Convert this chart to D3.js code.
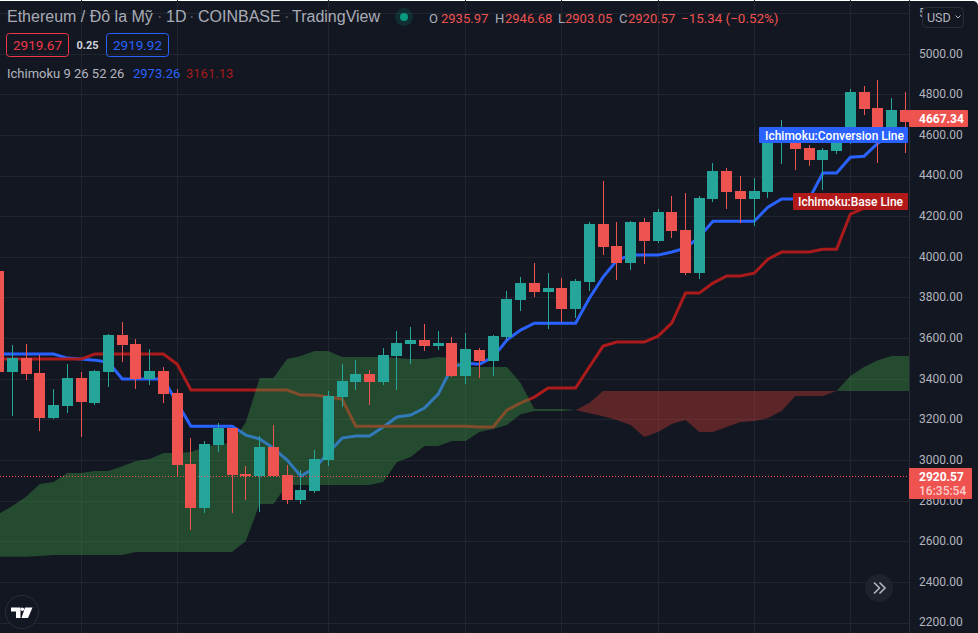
<!DOCTYPE html>
<html>
<head>
<meta charset="utf-8">
<script src="https://cdn.jsdelivr.net/npm/d3@7"></script>
<style>
    html, body { margin: 0; padding: 0; background: #fff; overflow: hidden; }
    svg { display: block; }
    text { font-family: Roboto, sans-serif; }
</style>
</head>
<body>
<script>
// candles, one entry per day
const candleOpen = [3932, 3435, 3504, 3430, 3209, 3268, 3406, 3283, 3435, 3617,
    3573, 3401, 3440, 3332, 2982, 2766, 3076, 3160, 2933, 2923,
    3066, 2928, 2806, 2850, 3002, 3312, 3386, 3425, 3386, 3514,
    3573, 3593, 3563, 3578, 3416, 3544, 3489, 3608, 3790, 3873,
    3829, 3849, 3745, 3878, 4163, 4056, 3972, 4173, 4080, 4222,
    4134, 3922, 4287, 4424, 4326, 4287, 4321, 4572, 4562, 4538,
    4478, 4523, 4567, 4813, 4734, 4602, 4724];
const candleHigh = [3932, 3568, 3573, 3519, 3352, 3474, 3435, 3445, 3622, 3681,
    3598, 3549, 3460, 3352, 3110, 3096, 3184, 3160, 2972, 3120,
    3175, 2977, 2953, 3052, 3342, 3474, 3494, 3445, 3554, 3637,
    3657, 3671, 3637, 3608, 3627, 3554, 3617, 3834, 3903, 3972,
    3922, 3898, 3893, 4173, 4375, 4173, 4178, 4193, 4237, 4301,
    4316, 4301, 4463, 4439, 4400, 4390, 4611, 4675, 4602, 4552,
    4538, 4577, 4828, 4842, 4872, 4783, 4813];
const candleLow = [3435, 3218, 3396, 3145, 3204, 3233, 3115, 3273, 3361, 3484,
    3352, 3371, 3283, 2919, 2658, 2741, 3042, 2741, 2806, 2746,
    2923, 2786, 2786, 2840, 2972, 3263, 3347, 3273, 3371, 3347,
    3474, 3539, 3544, 3411, 3376, 3406, 3416, 3593, 3735, 3804,
    3647, 3681, 3701, 3834, 4011, 3888, 3937, 3967, 4070, 4095,
    3912, 3893, 4272, 4237, 4168, 4153, 4292, 4459, 4429, 4449,
    4331, 4508, 4557, 4700, 4463, 4587, 4513];
const candleClose = [3435, 3504, 3425, 3209, 3273, 3406, 3288, 3440, 3617, 3568,
    3401, 3440, 3327, 2977, 2766, 3081, 3160, 2928, 2923, 3066,
    2923, 2806, 2855, 3007, 3317, 3391, 3425, 3386, 3519, 3578,
    3593, 3563, 3578, 3416, 3549, 3489, 3612, 3794, 3873, 3829,
    3849, 3745, 3883, 4163, 4051, 3972, 4173, 4080, 4222, 4129,
    3922, 4292, 4424, 4321, 4287, 4326, 4602, 4631, 4533, 4478,
    4528, 4562, 4813, 4729, 4602, 4724, 4667.34];

// ichimoku lines
const conversionLine = [3524, 3524, 3524, 3524, 3524, 3504, 3499, 3494, 3484, 3401,
    3401, 3401, 3401, 3283, 3169, 3169, 3169, 3169, 3125, 3106,
    3061, 3002, 2923, 2963, 3037, 3110, 3120, 3120, 3165, 3214,
    3224, 3258, 3327, 3460, 3479, 3474, 3509, 3593, 3642, 3676,
    3676, 3676, 3676, 3799, 3903, 3986, 4011, 4011, 4011, 4026,
    4045, 4100, 4178, 4178, 4178, 4178, 4247, 4287, 4287, 4287,
    4415, 4415, 4493, 4498, 4562, 4602, 4602];
const baseLine = [3499, 3499, 3499, 3499, 3499, 3499, 3499, 3524, 3524, 3524,
    3524, 3524, 3524, 3474, 3347, 3347, 3347, 3347, 3347, 3347,
    3347, 3347, 3322, 3322, 3312, 3302, 3169, 3169, 3169, 3169,
    3169, 3169, 3169, 3169, 3169, 3165, 3165, 3248, 3283, 3312,
    3357, 3357, 3357, 3460, 3563, 3583, 3583, 3583, 3612, 3676,
    3824, 3824, 3873, 3908, 3908, 3922, 3991, 4026, 4026, 4026,
    4040, 4040, 4213, 4242, 4257, 4282, 4282];

// the cloud runs one bar past the last candle
const spanA = [2736, 2776, 2821, 2884, 2894, 2938, 2938, 2948, 2948, 2972,
    2997, 3007, 3037, 3037, 3042, 3066, 3081, 3086, 3189, 3406,
    3406, 3499, 3514, 3539, 3539, 3509, 3509, 3509, 3509, 3504,
    3499, 3499, 3509, 3504, 3460, 3460, 3460, 3460, 3381, 3253,
    3253, 3253, 3248, 3233, 3218, 3199, 3175, 3115, 3140, 3179,
    3199, 3140, 3140, 3165, 3189, 3194, 3209, 3243, 3317, 3317,
    3317, 3342, 3416, 3460, 3494, 3514, 3514, 3514];
const spanB = [2526, 2526, 2526, 2530, 2535, 2535, 2535, 2535, 2535, 2535,
    2550, 2550, 2550, 2550, 2550, 2550, 2550, 2550, 2604, 2786,
    2786, 2879, 2879, 2879, 2879, 2879, 2879, 2879, 2894, 2992,
    3017, 3071, 3071, 3096, 3096, 3140, 3155, 3175, 3228, 3243,
    3243, 3243, 3248, 3283, 3342, 3342, 3342, 3342, 3342, 3342,
    3342, 3342, 3342, 3342, 3342, 3342, 3342, 3342, 3342, 3342,
    3342, 3342, 3342, 3342, 3342, 3342, 3342, 3342];

const priceTicks = [2200, 2400, 2600, 2800, 3000, 3200, 3400, 3600, 3800, 4000, 4200, 4400, 4600, 4800, 5000, 5200];
const timeGridBars = [6, 13, 24, 34, 41, 48, 55, 62];
const lastPrice = 2920.57;
const highlightPrice = 4667.34;

const ohlcLabels = ["O", "H", "L", "C"];
const ohlcValues = ["2935.97", "2946.68", "2903.05", "2920.57"];

const width = 978, height = 633;
const plotWidth = 909;

const bg = "#131722", gridColor = "#212530", axisColor = "#2a2e39", textColor = "#b2b5be";
const up = "#26a69a", down = "#ef5350", blue = "#2962ff", darkRed = "#ab1b1b";

const xScale = d3.scaleLinear().domain([0, 66]).range([-1.4, 905.3]);
const yScale = d3.scaleLinear().domain([5000, 2200]).range([54.2, 623]);

// pixel snap helpers
const snap = v => Math.round(v - 0.5) + 0.5;

const svg = d3.select("body").append("svg")
    .attr("width", width)
    .attr("height", height);

svg.append("rect")
    .attr("x", -10).attr("y", 1)
    .attr("width", width + 10).attr("height", height + 10)
    .attr("rx", 5)
    .attr("fill", bg);

svg.append("clipPath").attr("id", "plot-clip")
    .append("rect").attr("width", plotWidth).attr("height", height);

// grid
const grid = svg.append("g").attr("stroke", gridColor).attr("stroke-width", 1);
grid.selectAll("line.h").data(priceTicks).join("line")
    .attr("class", "h")
    .attr("x1", 0).attr("x2", plotWidth)
    .attr("y1", d => snap(yScale(d))).attr("y2", d => snap(yScale(d)));
grid.selectAll("line.v").data(timeGridBars).join("line")
    .attr("class", "v")
    .attr("x1", d => snap(xScale(d))).attr("x2", d => snap(xScale(d)))
    .attr("y1", 0).attr("y2", height);

const plot = svg.append("g").attr("clip-path", "url(#plot-clip)");

// lines sit under the cloud, that's why they look dull inside it
const line = d3.line().x((d, i) => xScale(i)).y(d => yScale(d));
plot.append("path").datum(conversionLine)
    .attr("d", line).attr("fill", "none").attr("stroke", blue).attr("stroke-width", 3);
plot.append("path").datum(baseLine)
    .attr("d", line).attr("fill", "none").attr("stroke", darkRed).attr("stroke-width", 3);

// cloud, split where the two spans touch
const cloudArea = test => d3.area()
    .defined(i => test(spanA[i], spanB[i]))
    .x(i => xScale(i))
    .y0(i => yScale(spanA[i]))
    .y1(i => yScale(spanB[i]));
const cloudBars = d3.range(spanA.length);
plot.append("path").datum(cloudBars)
    .attr("d", cloudArea((a, b) => a >= b))
    .attr("fill", "rgba(67,160,71,0.38)");
plot.append("path").datum(cloudBars)
    .attr("d", cloudArea((a, b) => a <= b))
    .attr("fill", "rgba(244,67,54,0.33)");

// candles
const candles = plot.append("g").attr("shape-rendering", "crispEdges")
    .selectAll("g").data(candleOpen).join("g")
    .attr("fill", (d, i) => candleClose[i] >= d ? up : down)
    .attr("stroke", "none");
candles.append("rect")
    .attr("x", (d, i) => Math.round(xScale(i) - 0.5))
    .attr("width", 1)
    .attr("y", (d, i) => yScale(candleHigh[i]))
    .attr("height", (d, i) => yScale(candleLow[i]) - yScale(candleHigh[i]));
candles.append("rect")
    .attr("x", (d, i) => Math.round(xScale(i) - 0.5) - 5)
    .attr("width", 11)
    .attr("y", (d, i) => yScale(Math.max(d, candleClose[i])))
    .attr("height", (d, i) => Math.max(1, Math.abs(yScale(d) - yScale(candleClose[i]))));

// last price line
svg.append("line")
    .attr("x1", 0).attr("x2", plotWidth)
    .attr("y1", snap(yScale(lastPrice))).attr("y2", snap(yScale(lastPrice)))
    .attr("stroke", down).attr("stroke-dasharray", "1,2");

// price axis
svg.append("line")
    .attr("x1", plotWidth + 0.5).attr("x2", plotWidth + 0.5)
    .attr("y1", 0).attr("y2", height)
    .attr("stroke", axisColor);
const axis = svg.append("g")
    .attr("transform", `translate(${plotWidth},0)`)
    .call(d3.axisRight(yScale).tickValues(priceTicks).tickFormat(d3.format(".2f")).tickSize(0).tickPadding(10));
axis.select(".domain").remove();
axis.selectAll("text")
    .attr("fill", textColor)
    .attr("dy", "0.24em")
    .style("font-family", "Roboto, sans-serif")
    .style("font-size", "12px");

// boxes tied to the series
function tag(x, y, w, h, fill) {
    svg.append("rect").attr("x", x).attr("y", y).attr("width", w).attr("height", h).attr("rx", 1).attr("fill", fill);
}
function label(str, x, y, size, color, weight, anchor, family) {
    return svg.append("text")
        .attr("x", x).attr("y", y)
        .attr("font-size", size)
        .attr("font-weight", weight || 400)
        .attr("text-anchor", anchor || "start")
        .attr("fill", color)
        .style("font-family", family || "Roboto, sans-serif")
        .text(str);
}

tag(759, 127, 149, 16, blue);
label("Ichimoku:Conversion Line", 765, 139.5, 12, "#fff", 500);
tag(793, 193, 115, 17, "#b21a1a");
label("Ichimoku:Base Line", 798, 206, 12, "#fff", 500);

tag(909, 110, 59, 17, down);
label(d3.format(".2f")(highlightPrice), 919, 122.5, 12, "#fff", 700);

tag(909, 468, 63, 31, down);
label(d3.format(".2f")(lastPrice), 919, 480.5, 12, "#fff", 700);
label("16:35:54", 919, 495, 12, "rgba(255,255,255,0.72)", 500);

// currency button
svg.append("rect")
    .attr("x", 922.5).attr("y", 7.5).attr("width", 41).attr("height", 20).attr("rx", 4)
    .attr("fill", bg).attr("stroke", "#2a2e39");
label("USD", 927, 22, 12.5, textColor);
svg.append("path")
    .attr("d", "M955.5 15.5l2.5 2.5l2.5-2.5")
    .attr("fill", "none").attr("stroke", textColor);

// header
const titleColor = "#a9acb6", titleFont = "'Liberation Sans', Arial, sans-serif";
label("Ethereum / Đô la Mỹ", 7, 22, 16, titleColor, 400, "start", titleFont);
label("·", 157, 22, 16, "#5d606b", 400, "start", titleFont);
label("1D", 166, 22, 16, titleColor, 400, "start", titleFont);
label("·", 189, 22, 16, "#5d606b", 400, "start", titleFont);
label("COINBASE", 198, 22, 16, titleColor, 400, "start", titleFont);
label("·", 284, 22, 16, "#5d606b", 400, "start", titleFont);
label("TradingView", 292, 22, 16, titleColor, 400, "start", titleFont);

svg.append("circle").attr("cx", 404).attr("cy", 17).attr("r", 9).attr("fill", "rgba(8,153,129,0.18)");
svg.append("circle").attr("cx", 404).attr("cy", 17).attr("r", 4).attr("fill", "#089981");

const ohlcX = [429, 495, 558, 619];
const ohlcGap = [12, 10, 7, 9];
ohlcLabels.forEach((d, i) => {
    label(d, ohlcX[i], 23, 13, titleColor);
    label(ohlcValues[i], ohlcX[i] + ohlcGap[i], 23, 13, down);
});
label("−15.34 (−0.52%)", 681, 23, 13.4, down);

// bid / ask boxes
svg.append("rect").attr("x", 6.5).attr("y", 33.5).attr("width", 62).attr("height", 23).attr("rx", 3)
    .attr("fill", "none").attr("stroke", "#f23645");
label("2919.67", 37.5, 50, 13.5, "#f23645", 400, "middle");
label("0.25", 87.5, 49, 11, "#d1d4dc", 700, "middle");
svg.append("rect").attr("x", 106.5).attr("y", 33.5).attr("width", 62).attr("height", 23).attr("rx", 3)
    .attr("fill", "none").attr("stroke", blue);
label("2919.92", 137.5, 50, 13.5, blue, 400, "middle");

// indicator legend
label("Ichimoku 9 26 52 26", 7, 78, 13, textColor);
label("2973.26", 133, 78, 13, blue);
label("3161.13", 186, 78, 13, "#a31b1b");

// scroll to realtime button
svg.append("circle").attr("cx", 879).attr("cy", 588).attr("r", 14).attr("fill", "#1e222d");
svg.append("path")
    .attr("d", "M874 582.5l5.5 5.5l-5.5 5.5M879.5 582.5l5.5 5.5l-5.5 5.5")
    .attr("fill", "none").attr("stroke", textColor).attr("stroke-width", 1.6);

// logo
svg.append("circle").attr("cx", 22).attr("cy", 612).attr("r", 16.5).attr("fill", bg).attr("stroke", "#2a2e39");
svg.append("path")
    .attr("d", "M11 607.5h9.5v10.5h-4.5v-6.5h-5zM25 607.5h7.5l-4.5 10.5h-6.5z")
    .attr("fill", "#fff");
svg.append("circle").attr("cx", 22.3).attr("cy", 609.3).attr("r", 1.8).attr("fill", "#fff");
</script>
</body>
</html>
